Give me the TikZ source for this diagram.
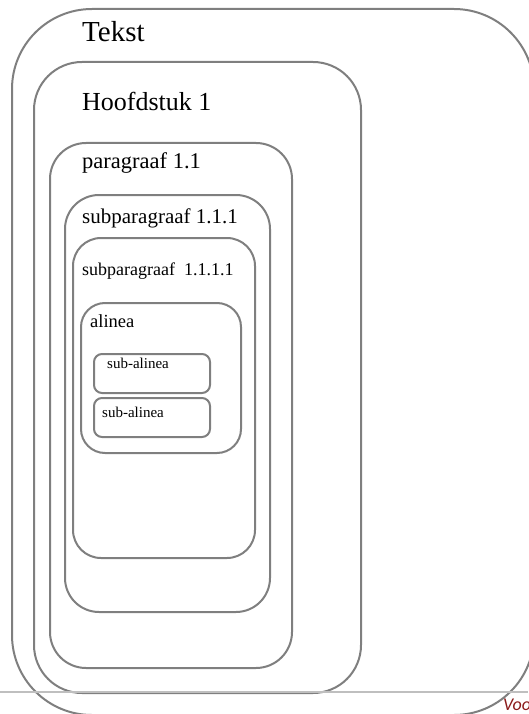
\documentclass[tikz,border=0pt]{standalone}
\usepackage{fontspec}
\setmainfont{Liberation Serif}
\newfontfamily\notefont{Carlito}
\definecolor{boxgray}{HTML}{7F7F7F}
\definecolor{rulegray}{HTML}{BFBFBF}
\definecolor{notered}{HTML}{8B1C1C}
\begin{document}
\begin{tikzpicture}[
  x=1pt,y=-1pt,
  box/.style={draw=boxgray,line width=2pt,rounded corners=#1},
  lbl/.style={anchor=base west,inner sep=0pt,font=\fontsize{#1}{#1}\selectfont}
  ]
  \useasboundingbox (0,0) rectangle (528,714);

  \draw[box=80] (12,9)   rectangle (534,715);
  \draw[box=48] (34,62)  rectangle (361,693);
  \draw[box=36] (50,143) rectangle (292,668);
  \draw[box=34] (65,195) rectangle (270,612);
  \draw[box=28] (73,238) rectangle (255,558);
  \draw[box=24] (81,303) rectangle (241,453);
  \draw[box=8]  (94,354) rectangle (210,393);
  \draw[box=8]  (94,398) rectangle (210,437);

  \node[lbl=29]   (NTekst)   at (82,42)  {Tekst};
  \node[lbl=26]   (NHfd)     at (82,111) {Hoofdstuk 1};
  \node[lbl=22.5] (NPar)     at (82,169) {paragraaf 1.1};
  \node[lbl=21]   (NSub)     at (82,223) {subparagraaf 1.1.1};
  \node[lbl=18]   (NSubSub)  at (82,275) {subparagraaf\ \ 1.1.1.1};
  \node[lbl=18.5] (NAlin)    at (90,327) {alinea};
  \node[lbl=15]   (NSubAl1)  at (107,368) {sub-alinea};
  \node[lbl=15]   (NSubAl2)  at (102,417) {sub-alinea};

  \draw[rulegray,line width=1.5pt] (0,692) -- (528,692);
  \node[anchor=base west,inner sep=0pt,text=notered,
        font=\notefont\itshape\fontsize{18}{18}\selectfont] (NVoo) at (503,710) {Voo};
\end{tikzpicture}
\end{document}
